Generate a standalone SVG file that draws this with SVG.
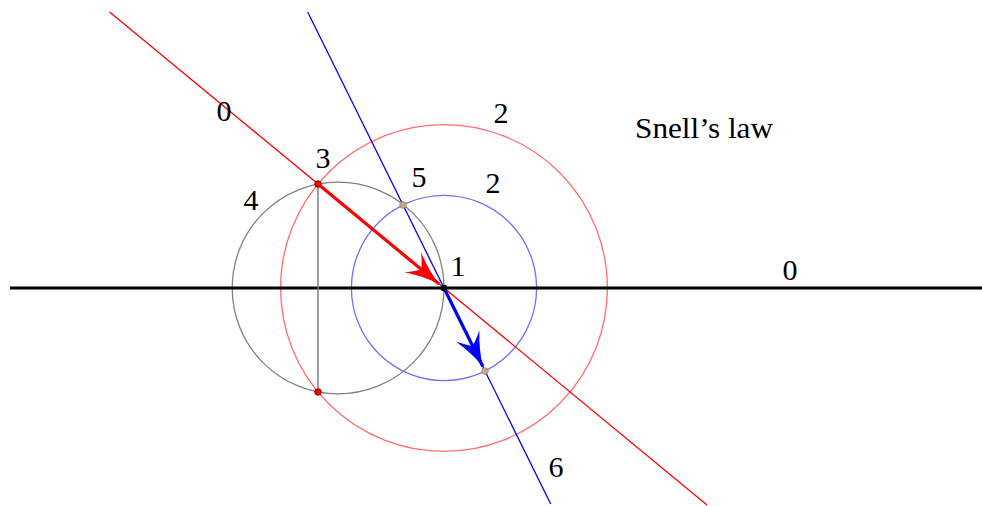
<svg xmlns="http://www.w3.org/2000/svg" width="982" height="506" viewBox="0 0 982 506">
<style>
.lbl{font-family:'Liberation Serif','Times New Roman',Times,serif;font-size:30px;fill:#000;text-anchor:middle}
.thin{fill:none;stroke-width:1.3}
.pt{stroke-width:0.8}
</style>
<defs>
<marker id="ahR" markerUnits="userSpaceOnUse" markerWidth="40" markerHeight="32" viewBox="-36 -16 38 32" refX="0" refY="0" orient="auto">
<path d="M0,0 Q-17,-4 -34,-13 Q-26,-5 -23,0 Q-26,5 -34,13 Q-17,4 0,0 Z" fill="#ff0000"/>
</marker>
<marker id="ahB" markerUnits="userSpaceOnUse" markerWidth="40" markerHeight="32" viewBox="-36 -16 38 32" refX="0" refY="0" orient="auto">
<path d="M0,0 Q-17,-4 -34,-13 Q-26,-5 -23,0 Q-26,5 -34,13 Q-17,4 0,0 Z" fill="#0000ff"/>
</marker>
</defs>
<rect width="982" height="506" fill="#fff"/>
<g id="circles">
<circle id="circle-red" cx="444" cy="288" r="163.4" class="thin" stroke="#ff6e6e"/>
<circle id="circle-blue" cx="444" cy="288" r="92.6" class="thin" stroke="#7070ff"/>
<circle id="circle-gray" cx="338.1" cy="288" r="105.9" class="thin" stroke="#808080"/>
</g>
<g id="connectors">
<line id="interface" x1="10" y1="288" x2="982" y2="288" stroke="#000" stroke-width="3"/>
<line id="ray-red" x1="109.6" y1="12" x2="707" y2="505" stroke="#ff0000" stroke-width="1.3"/>
<line id="ray-blue" x1="307.7" y1="12" x2="550.7" y2="504" stroke="#0000ff" stroke-width="1.3"/>
<line id="chord" x1="318" y1="184" x2="318" y2="392" stroke="#808080" stroke-width="1.5"/>
<line id="arrow-red" x1="318" y1="184" x2="439" y2="284" stroke="#ff0000" stroke-width="3.2" marker-end="url(#ahR)"/>
<line id="arrow-blue" x1="444" y1="288" x2="482.8" y2="366.5" stroke="#0000ff" stroke-width="3.2" marker-end="url(#ahB)"/>
</g>
<g id="points">
<circle id="p3" cx="318" cy="184" r="3.3" fill="#ff0000" stroke="#600" class="pt"/>
<circle id="p4b" cx="318" cy="392" r="3.3" fill="#ff0000" stroke="#600" class="pt"/>
<circle id="p5" cx="403" cy="205" r="3.3" fill="#d2a57a" stroke="#8a8a8a" class="pt"/>
<circle id="p6" cx="485" cy="371" r="3.3" fill="#d2a57a" stroke="#8a8a8a" class="pt"/>
<circle id="p1" cx="444" cy="288" r="3.3" fill="#000"/>
</g>
<g id="labels">
<text class="lbl" x="224" y="121">0</text>
<text class="lbl" x="323" y="168">3</text>
<text class="lbl" x="251" y="210">4</text>
<text class="lbl" x="419" y="187">5</text>
<text class="lbl" x="501" y="123">2</text>
<text class="lbl" x="493" y="193">2</text>
<text class="lbl" x="458" y="276">1</text>
<text class="lbl" x="790" y="280">0</text>
<text class="lbl" x="556" y="477">6</text>
<text class="lbl" x="635" y="138" style="text-anchor:start" textLength="138" lengthAdjust="spacingAndGlyphs">Snell’s law</text>
</g>
</svg>
